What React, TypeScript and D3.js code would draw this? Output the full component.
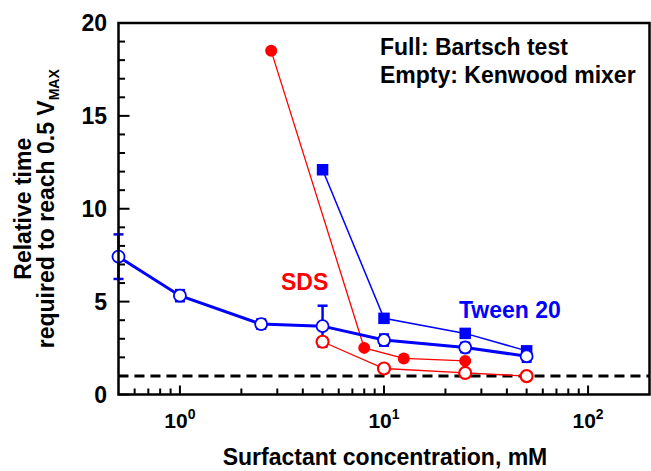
import React from "react";
import * as d3 from "d3";

// ---- data ----
const tweenKenwoodX = [0.5, 1, 2.5, 5, 10, 25, 50];
const tweenKenwoodY = [7.42, 5.32, 3.79, 3.68, 2.93, 2.53, 2.06];
const tweenKenwoodErr = [1.2, 0.3, 0.25, 1.1, 0.3, 0.25, 0.3];
const tweenBartschX = [5, 10, 25, 50];
const tweenBartschY = [12.1, 4.1, 3.29, 2.35];
const sdsBartschX = [2.8, 8, 12.5, 25];
const sdsBartschY = [18.5, 2.51, 1.94, 1.81];
const sdsKenwoodX = [5, 10, 25, 50];
const sdsKenwoodY = [2.84, 1.4, 1.16, 0.99];
const referenceY = 1;
const xMajorTicks = [1, 10, 100];
const xMajorExp = ["0", "1", "2"];
const yMajorTicks = [0, 5, 10, 15, 20];
const xDomain: [number, number] = [0.5, 200];
const yDomain: [number, number] = [0, 20];

const W = 651;
const H = 471;
const left = 118.5;
const right = 649.5;
const top = 23;
const bottom = 394.5;

const FONT = "'Liberation Sans', Arial, Helvetica, sans-serif";
const BLUE = "#0000ff";
const RED = "#ff0000";

export default function App() {
  const x = d3.scaleLog().domain(xDomain).range([left, right]);
  const y = d3.scaleLinear().domain(yDomain).range([bottom, top]);

  // minor x ticks
  const xMinor: number[] = [];
  for (let dec = 0.1; dec <= 100; dec *= 10) {
    for (let k = 1; k <= 9; k++) {
      const v = +(k * dec).toPrecision(3);
      if (v > xDomain[0] && v < xDomain[1] && !xMajorTicks.includes(v)) xMinor.push(v);
    }
  }
  const yMinor = d3.range(1, 20).filter((v) => v % 5 !== 0);

  const line = d3
    .line<[number, number]>()
    .x((d) => x(d[0]))
    .y((d) => y(d[1]));

  const zip = (a: number[], b: number[]) => a.map((v, i) => [v, b[i]] as [number, number]);

  const tk = zip(tweenKenwoodX, tweenKenwoodY);
  const tb = zip(tweenBartschX, tweenBartschY);
  const sb = zip(sdsBartschX, sdsBartschY);
  const sk = zip(sdsKenwoodX, sdsKenwoodY);

  const r = 6;
  const sq = 11.5;

  return (
    <svg
      width={W}
      height={H}
      style={{ position: "absolute", left: 0, top: 0, background: "#fff" }}
      fontFamily={FONT}
      fontWeight="bold"
    >
      <rect x={0} y={0} width={W} height={H} fill="#fff" />
      {/* reference dashed line */}
      <line
        x1={left}
        x2={right}
        y1={y(referenceY)}
        y2={y(referenceY)}
        stroke="#000"
        strokeWidth={3}
        strokeDasharray="10,6"
      />
      {/* SDS Bartsch (full red) */}
      <path d={line(sb) || ""} fill="none" stroke={RED} strokeWidth={1.3} />
      {/* SDS Kenwood (open red) */}
      <path d={line(sk) || ""} fill="none" stroke={RED} strokeWidth={1.3} />
      {/* Tween Bartsch (full blue squares) */}
      <path d={line(tb) || ""} fill="none" stroke={BLUE} strokeWidth={1.5} />
      {tb.map((d, i) => (
        <rect key={"tb" + i} x={x(d[0]) - sq / 2} y={y(d[1]) - sq / 2} width={sq} height={sq} fill={BLUE} />
      ))}
      {/* Tween Kenwood error bars */}
      {tk.map((d, i) => {
        const cx = x(d[0]);
        const y1 = y(d[1] + tweenKenwoodErr[i]);
        const y2 = y(d[1] - tweenKenwoodErr[i]);
        return (
          <g key={"eb" + i} stroke={BLUE} strokeWidth={2.5}>
            <line x1={cx} x2={cx} y1={y1} y2={y2} />
            <line x1={cx - 5} x2={cx + 5} y1={y1} y2={y1} />
            <line x1={cx - 5} x2={cx + 5} y1={y2} y2={y2} />
          </g>
        );
      })}
      <path d={line(tk) || ""} fill="none" stroke={BLUE} strokeWidth={3} />
      {tk.map((d, i) => (
        <circle key={"tk" + i} cx={x(d[0])} cy={y(d[1])} r={r} fill="#fff" stroke={BLUE} strokeWidth={1.8} />
      ))}
      {sb.map((d, i) => (
        <circle key={"sb" + i} cx={x(d[0])} cy={y(d[1])} r={r} fill={RED} />
      ))}
      {sk.map((d, i) => (
        <circle key={"sk" + i} cx={x(d[0])} cy={y(d[1])} r={r} fill="#fff" stroke={RED} strokeWidth={2.2} />
      ))}

      {/* frame */}
      <rect x={left} y={top} width={right - left} height={bottom - top} fill="none" stroke="#000" strokeWidth={2.5} />
      {/* x ticks */}
      {xMinor.map((v) => (
        <line key={"xm" + v} x1={x(v)} x2={x(v)} y1={bottom} y2={bottom - 6} stroke="#000" strokeWidth={2} />
      ))}
      {xMajorTicks.map((v) => (
        <line key={"xM" + v} x1={x(v)} x2={x(v)} y1={bottom} y2={bottom - 9} stroke="#000" strokeWidth={2} />
      ))}
      {xMajorTicks.map((v, i) => (
        <text key={"xl" + v} x={x(v)} y={428} textAnchor="middle" fontSize={21} fill="#000">
          10
          <tspan fontSize={14} dy={-9}>
            {xMajorExp[i]}
          </tspan>
        </text>
      ))}
      {/* y ticks */}
      {yMinor.map((v) => (
        <line key={"ym" + v} x1={left} x2={left + 6.5} y1={y(v)} y2={y(v)} stroke="#000" strokeWidth={2} />
      ))}
      {yMajorTicks.map((v) => (
        <line key={"yM" + v} x1={left} x2={left + 11} y1={y(v)} y2={y(v)} stroke="#000" strokeWidth={2} />
      ))}
      {yMajorTicks.map((v) => (
        <text key={"yl" + v} x={107} y={y(v)} dy="0.36em" textAnchor="end" fontSize={23} fill="#000">
          {v}
        </text>
      ))}

      {/* axis titles */}
      <text x={385} y={465} textAnchor="middle" fontSize={23} fill="#000">
        Surfactant concentration, mM
      </text>
      <g transform={`translate(31, ${(top + bottom) / 2}) rotate(-90)`}>
        <text x={0} y={0} textAnchor="middle" fontSize={23} fill="#000">
          Relative time
        </text>
      </g>
      <g transform={`translate(54, ${(top + bottom) / 2}) rotate(-90)`}>
        <text x={0} y={0} textAnchor="middle" fontSize={23} fill="#000">
          required to reach 0.5 V
          <tspan fontSize={14} dy={5}>
            MAX
          </tspan>
        </text>
      </g>

      {/* annotations */}
      <text x={380} y={55} fontSize={23} fill="#000">
        Full: Bartsch test
      </text>
      <text x={380} y={83} fontSize={23} fill="#000">
        Empty: Kenwood mixer
      </text>
      <text x={281} y={290} fontSize={23} fill={RED}>
        SDS
      </text>
      <text x={459} y={318} fontSize={23} fill={BLUE}>
        Tween 20
      </text>
    </svg>
  );
}
